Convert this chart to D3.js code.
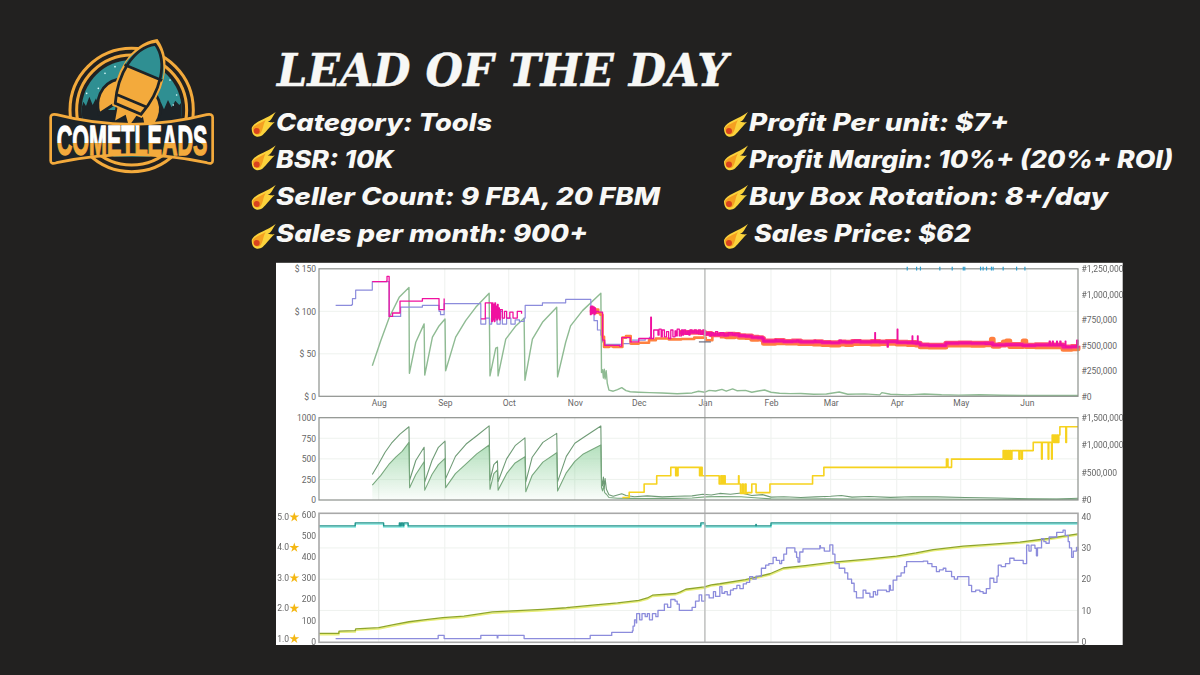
<!DOCTYPE html>
<html><head><meta charset="utf-8">
<script src="https://cdn.jsdelivr.net/npm/d3@7"></script>
<style>
html,body{margin:0;padding:0;background:#222120;overflow:hidden}
svg{display:block}
.lab text{font-family:Roboto,"Open Sans",sans-serif;font-size:8.5px;fill:#666}
</style></head><body>
<svg id="c" width="1200" height="675"></svg>
<script>
// ---------- text content ----------
const titleText = "LEAD OF THE DAY";
const logoText = "COMETLEADS";
const leftFacts = ["Category: Tools","BSR: 10K","Seller Count: 9 FBA, 20 FBM","Sales per month: 900+"];
const rightFacts = ["Profit Per unit: $7+","Profit Margin: 10%+ (20%+ ROI)","Buy Box Rotation: 8+/day"," Sales Price: $62"];
const monthFormat = "%b";

// ---------- data: [days since 1 Aug, value] ----------
const amazonPrice = [[-20.2,107],[-12.6,108],[-12.3,115],[-10.8,125],[-3,135],[4.9,94],[10.3,105],[20.5,107],[28.3,100],[29,96],[30.7,109],[47.9,85],[50.2,92],[52,85],[53,100],[54,90],[55.5,85],[57,100],[58,85],[60,92],[62,85],[64,90],[66,88],[68.2,92],[68.7,107],[76.8,110],[87.7,114],[99.5,100],[101,89],[102.6,78],[104.2,72],[105,64],[106,61],[114,62],[118,66],[125,68],[127,70]];
const newPriceThin = [[-3,135],[3.8,136],[3.9,141],[4.9,94],[6.5,98],[10,112],[20.5,115],[28.3,102],[30.7,115],[34.5,null],[34.9,115],[38,null],[45,115],[47.9,null],[48,91],[50,110],[52.5,110],[53,88],[53.3,110],[53.6,90],[53.9,108],[54.2,88],[54.5,110],[54.8,92],[55.1,106],[55.4,90],[55.7,108],[56,92],[56.3,104],[56.6,90],[57,102],[58,92],[59,100],[60,92],[61.5,99],[63,92],[65,100],[67,97],[68.3,null],
 [99,105],[99.3,96],[99.6,106],[99.9,97],[100.2,106],[100.5,98],[100.8,105],[101.1,96],[101.4,104],[101.7,98],[102,100],[103,99],[105,66],[106,60],[113,59],[114,69],[117,69],[118,64],[122,68],[127.4,68],[127.6,93],[127.9,68],[129,78],[131,72],[131.5,79],[132.5,70],[133,78],[134,70],[135,76],[136,68],[137,78],[138,70],[139,77],[139.5,71],[140,79],[141,71],[142,78],[142.6,72],[143,78],[144,73],[145,77],[145.5,72],[146,78],[147,75],[148,78],[149,74],[150,78],[151,73],[152,78],[153,72],[154,74],[155,71],[156,75],[157,72],[158,76],[159,72],[160,75],[162,71],[164,75],[166,72],[167,74],[169,71],[172,71],[175,69],[180,68],[180.5,65],[186,67],[186.5,64.5],[190,64.5],[196,66],[197,64],[204,64],[204.5,66],[205,63.7],[212,63],[216,66],[217,64],[223,66],[226,64],[232,64],[232.7,75],[233,64],[238,64],[238.5,58],[239,64],[243,63],[243.2,79],[243.5,63],[250,63],[250.2,71],[250.5,62],[252.7,71],[253,62],[254,60],[262,60],[266,62.5],[284,62.5],[284.5,61],[288,60],[298,60],[314,60.5],[314.5,65],[315,60],[316,65],[316.4,60],[318,65],[318.3,60],[319.5,65],[320,60],[322,65],[322.3,58],[324,58],[327,59],[327.4,66],[328,60]];
const newPriceBand = [[141,75],[146,75.5],[150,75],[153,74],[156,72.5],[160,72.5],[163,73],[167,72.6],[169,71.3],[172,70.8],[175,69.5],[178,69],[180,68],[180.5,65],[186,65.6],[190,64.5],[194,65],[198,64],[204,64.3],[208,63.4],[212,63],[216,64],[219,63.6],[222,64.6],[226,64],[231,64.4],[235,64],[238,64.5],[243,63.6],[248,63.2],[252,62.5],[254,60.5],[258,60],[262,60],[266,62.5],[272,62.8],[278,62.4],[284,62.5],[288,60.4],[294,60.8],[302,60],[308,60.6],[316,60.5],[321,58],[325,58.5],[328,59.4]];
const fbaBand = [[160,70.8],[163,70.2],[167,70.8],[169,69.6],[172,69.2],[175,67],[178,67.4],[180,66.2],[180.5,62.5],[186,63],[191,62.6],[197,62],[204,61.4],[208,61],[212,60.4],[216,61.4],[219,61],[222,62.2],[226,62],[231,61.6],[235,62],[238,62.3],[243,61.4],[248,61],[252,60.4],[254,58.2],[258,58],[262,58],[266,60.5],[272,60.4],[278,60.2],[284,60.6],[287,62],[287.4,67],[288.2,59],[291,61],[293,64],[294.5,65],[296,58.6],[302.3,65],[303.5,58.6],[308,58.4],[316,58.2],[321,55.5],[325,55.8],[328,57.5]];
const fbaPrice = [[99,100],[100,104],[101,98],[102,102],[103,98],[104,96],[105,70],[105.7,58],[108,59],[110,58],[114.3,69],[116,71],[118.2,62],[122,63],[126.8,66],[130,68],[136,67],[142,67.5],[148,69],[153.4,66],[156.5,72],[160,72]];
const buyBoxTicks = [247.9,252.3,254.1,263.2,269,274.2,274.9,282.3,283.5,285.1,287.4,288.2,292.9,299.2,303.1];
const salesRank = [[-3,300000],[1,548000],[5,775000],[9.6,970000],[14.2,1067000],[14.4,225000],[17.4,530000],[21.3,710000],[21.6,208000],[25.2,580000],[28.3,690000],[31.1,758000],[31.4,250000],[36.1,580000],[40.8,742000],[45.5,872000],[51.8,1010000],[52.2,200000],[54.9,472000],[55.7,480000],[56,200000],[59.6,560000],[64.3,690000],[68.2,765000],[68.6,158000],[72.1,560000],[76.8,725000],[83.5,872000],[83.9,190000],[87.7,530000],[90,690000],[95.6,840000],[104.2,1010000],[104.5,233000],[105,260000],[105.4,180000],[105.8,265000],[106.2,170000],[106.7,250000],[107.2,130000],[108,60000],[110,50000],[112,65000],[114,85000],[116,55000],[118,45000],[122,40000],[127,36000],[133,32000],[140,25000],[147,33000],[150,50000],[153,40000],[155,58000],[158,52000],[161,68000],[163,50000],[166,72000],[168,55000],[172,58000],[175,40000],[178,52000],[181,62000],[184,40000],[188,30000],[193,26000],[198,28000],[204,20000],[210,22000],[216,42000],[220,20000],[228,24000],[235,14000],[236,36000],[240,20000],[248,14000],[256,22000],[264,15000],[272,12000],[282,15000],[292,10000],[302,8000],[316,8000],[328,8000]];
const monthlySoldUpper = [[-3,310],[0,440],[3,580],[6,690],[10,800],[14.2,890],[14.5,240],[17.4,480],[21.3,640],[21.6,220],[25,480],[28,640],[31.1,715],[31.4,260],[36,530],[41,680],[46,780],[51.8,900],[52.2,240],[54,430],[55.7,475],[56,225],[60,500],[64,660],[68.6,755],[69,220],[72,520],[77,700],[83.5,810],[83.9,220],[88,530],[92,690],[96,760],[104.2,900],[104.5,260],[105,170],[105.4,280],[105.8,140],[106.2,260],[106.8,130],[108,65],[110,45],[112,60],[114,75],[116,55],[120,40],[126,50],[133,38],[140,45],[147,50],[152,70],[156,60],[160,80],[165,70],[170,85],[175,55],[180,65],[184,35],[190,40],[198,30],[205,38],[212,45],[217,55],[222,35],[230,42],[240,32],[250,40],[262,38],[275,30],[290,24],[305,15],[318,12],[328,22]];
const monthlySoldLower = [[-3,182],[1,300],[5,440],[8,520],[11,590],[14.2,700],[14.5,150],[17.4,310],[21.3,465],[21.6,120],[25,310],[28,430],[31.1,505],[31.4,150],[36,320],[41,440],[46,560],[51.8,668],[52.2,130],[54,320],[55.7,365],[56,120],[60,320],[64,450],[68.6,525],[69,100],[72,300],[77,460],[83.5,575],[83.9,110],[88,330],[92,470],[96,560],[104.2,668],[104.5,150],[105,110],[105.5,170],[106,90],[106.8,70],[108,30],[112,22],[118,20],[125,18],[133,22],[140,20],[147,25],[153,38],[160,42],[170,40],[178,25],[184,14],[195,12],[210,14],[225,12],[240,12],[260,12],[280,10],[300,8],[328,10]];
const bsrYellow = [[114.3,45000],[117.5,142000],[124.5,292000],[130.4,442000],[137,595000],[139.3,442000],[139.6,595000],[140,442000],[140.4,595000],[150.5,442000],[150.8,595000],[151.1,442000],[151.4,595000],[151.7,442000],[159.7,292000],[160.5,442000],[160.9,292000],[161.3,442000],[161.7,292000],[162.1,442000],[162.5,292000],[168.8,442000],[169,292000],[169.7,120000],[170.5,292000],[171,120000],[171.8,292000],[172.3,120000],[173,135000],[175,292000],[177,135000],[183.5,292000],[203.5,442000],[208.8,595000],[266.3,745000],[267,595000],[268.7,745000],[292.9,900000],[293.5,745000],[294,900000],[294.5,745000],[295,900000],[295.5,745000],[296,900000],[296.5,745000],[297,900000],[300.3,745000],[300.7,900000],[301.5,745000],[301.9,900000],[307,1050000],[310.9,745000],[311.2,1050000],[314,745000],[314.3,1050000],[315.6,745000],[315.9,1185000],[316.6,1050000],[317,1185000],[317.5,1050000],[318,1185000],[318.5,1050000],[319,1185000],[319.5,1335000],[322.3,1050000],[322.6,1335000],[328,1335000]];
const ratingSteps = [[-28,4.7],[-11,4.8],[2.3,4.7],[9.7,4.8],[10.1,4.7],[10.6,4.8],[11.3,4.7],[11.8,4.8],[13.8,4.7],[151.1,4.8],[153,4.7],[176.9,4.75],[177.1,4.7],[184,4.8],[328,4.8]];
const reviewCount = [[-28,39],[-18.7,39],[-18.6,50],[-11,52],[-10.8,60],[0,66],[7,80],[14.2,94],[22,104],[30,113],[40,120],[48.6,133],[53.3,140],[65,146],[76.8,152],[88,160],[100.3,172],[112,183],[122,195],[126,206],[128.4,219],[139.3,227],[141.5,235],[144,247],[152.7,258],[156,268],[160,273],[172,292],[183.5,320],[189.7,347],[200,358],[213.2,375],[228,388],[242.9,403],[252,418],[260,434],[274.2,450],[288,460],[300.7,469],[314,486],[328,508]];
const offerCount = [[-20.2,1],[27.9,2],[30.7,1],[47.9,2],[55.6,1.2],[55.9,2],[68.2,1],[99.2,2],[109.3,3],[119,3.5],[119.3,5],[120,7],[120.8,6],[121,9],[122.4,7],[123.5,9],[125,8],[126,9],[127,7],[128.4,9],[130,8],[131,10],[133,10],[134,12],[135.5,11],[137,13.5],[139,13],[140,12],[141,10],[144,10],[147,11],[148.6,13],[150.3,15],[151.5,13],[153,15],[155,14],[157,16],[158,14.5],[160,17.6],[161,15.5],[162.3,16],[163.5,15],[165,16.5],[166.3,17],[168,18],[169.4,17],[171,18.5],[172.5,19],[174,20.8],[175.5,20],[177,21],[179.5,23.5],[181.5,24.5],[183,25],[185,27],[186.5,26],[188.1,25],[189,26],[190,28],[191.3,30],[195.2,28.7],[196,27],[196.7,25.5],[197.5,28.7],[199,29.7],[206.9,30.7],[207.2,30],[209,29],[211.6,31],[213,28],[214,25],[216,23.5],[218.6,22],[220,20],[221.8,18.7],[223,16],[224.1,14],[226.5,14],[227.2,16.5],[228.5,15.5],[230.4,14.3],[232,16],[233,15],[234,16.5],[238.2,16],[239.5,18],[240,16.5],[241.3,19.7],[243,21],[245,22],[246.6,24],[247.6,25.6],[255.4,25.8],[257.5,25],[259.5,24],[261.6,22.4],[263,23],[264.8,23.5],[266,22.5],[268.7,20.8],[270,20],[271.5,20.8],[275.7,20.8],[276.8,18],[278.1,16],[280,16.5],[282,16],[283.5,15.5],[285,17],[286.7,20.3],[288.5,19],[290,21],[290.6,24.5],[292,24],[294,25],[296,26.7],[298,26],[302.3,25],[303.9,30.9],[305,29],[306,30.9],[307.8,29.9],[308.5,27.5],[309,30],[310.9,33],[312,32],[313,31.5],[314.5,33.5],[316.4,33.5],[318,35],[321,35.7],[322,34],[323.4,32],[324,30],[325,27],[325.8,29],[327.3,30.2],[328,29]];
const cursorDay = 153;
const cursorMark = 64;

// ---------- scales ----------
const svg = d3.select("#c");
const at = d => new Date(2021,7,1,0,0,0,0).getTime() + d*864e5;
const x = d3.scaleTime().domain([new Date(2021,6,4),new Date(2022,5,25)]).range([319,1078]);
const X = p => x(at(p[0]));
const yPrice = d3.scaleLinear().domain([0,150]).range([396.3,268.8]);
const yRankTop = d3.scaleLinear().domain([0,1250000]).range([396.3,268.8]);
const ySold = d3.scaleLinear().domain([0,1000]).range([500,417.7]);
const yRankMid = d3.scaleLinear().domain([0,1500000]).range([500,417.7]);
const yRev = d3.scaleLinear().domain([0,600]).range([641.7,514.3]);
const yOffer = d3.scaleLinear().domain([0,40]).range([641.7,516.7]);
const yStar = d3.scaleLinear().domain([1,5]).range([638.3,516.7]);
const panels = [{t:268.8,b:396.3,ys:yPrice},{t:417.7,b:500,ys:ySold},{t:513.3,b:642.3,ys:yOffer}];
const L=319,R=1078;
const step = y => d3.line().defined(p=>p[1]!=null).x(X).y(p=>y(p[1])).curve(d3.curveStepAfter);
const straight = y => d3.line().x(X).y(p=>y(p[1]));

// ---------- slide text ----------
svg.append("text").text(titleText).attr("x",277).attr("y",86)
 .attr("textLength",451).attr("lengthAdjust","spacingAndGlyphs")
 .style("font","italic bold 45px 'DejaVu Serif',serif").style("fill","#f7f7f5").style("stroke","#f7f7f5").style("stroke-width",.4);

const defs = svg.append("defs");
const facts = [{items:leftFacts,xs:[276,276,276,276],w:[216,118,384,312],cx:257.7},
               {items:rightFacts,xs:[749,749,749,754],w:[260,424,359,217],cx:730}];
const baselines=[131,168,205,242], cometY=[130,163.5,203,242];
facts.forEach(col=>{
  col.items.forEach((t,i)=>{
    svg.append("text").text(t.trim()).attr("x",col.xs[i]).attr("y",baselines[i])
     .attr("textLength",col.w[i]).attr("lengthAdjust","spacingAndGlyphs")
     .style("font","italic 800 24px Inter,'Open Sans',sans-serif").style("fill","#f8f8f6");
    const g=svg.append("g").attr("transform",`translate(${col.cx},${cometY[i]})`);
    g.append("path").attr("d","M-6,-2 C-3,-9 7,-10 18,-18 C14,-12 14,-10 10,-8 C14,-8 14,-7 17,-8 C11,-2 9,1 5,5 C1,8 -6,8 -6,-2 Z").attr("fill","#fbd33c");
    g.append("path").attr("d","M-5,-2 C-2,-6 3,-7 8,-10 C5,-5 6,-2 3,3 C1,6 -5,5 -5,-2 Z").attr("fill","#f5a021");
    g.append("circle").attr("cx",-1).attr("cy",1).attr("r",3).attr("fill","#d8431f");
  });
});

// ---------- logo ----------
const logo = svg.append("g").attr("transform","translate(30,30) scale(0.3333)");
const lg = defs.append("linearGradient").attr("id","lt").attr("x1",0).attr("x2",0).attr("y1",0).attr("y2",1);
[[0,"#fff"],[.58,"#fff"],[.58,"#f3aa3c"],[1,"#f3aa3c"]].forEach(s=>lg.append("stop").attr("offset",s[0]).attr("stop-color",s[1]));
defs.append("clipPath").attr("id","sky").append("circle").attr("cx",305).attr("cy",240).attr("r",150);
logo.append("circle").attr("cx",305).attr("cy",240).attr("r",185).attr("fill","none").attr("stroke","#f3aa3c").attr("stroke-width",9);
logo.append("circle").attr("cx",305).attr("cy",240).attr("r",165).attr("fill","none").attr("stroke","#f3aa3c").attr("stroke-width",9);
const sky=logo.append("g").attr("clip-path","url(#sky)");
sky.append("rect").attr("x",140).attr("y",80).attr("width",340).attr("height",300).attr("fill","#2f8f92");
sky.append("path").attr("d","M150,250 L160,215 L168,228 L178,200 L188,225 L198,205 L210,235 L222,212 L235,240 L380,240 L392,215 L402,238 L414,210 L425,232 L436,212 L448,225 L460,210 L470,260 L470,300 L150,300 Z").attr("fill","#1d2327");
[[205,175],[225,130],[170,190],[255,110],[420,150],[440,195],[395,120],[215,205],[430,225]].forEach(s=>sky.append("circle").attr("cx",s[0]).attr("cy",s[1]).attr("r",2.5).attr("fill","#dff"));
const r=logo.append("g").attr("transform","translate(327,159) rotate(22.8) scale(1.2)");
r.append("path").attr("d","M-50,10 C-92,40 -82,85 -62,110 L-35,70 Z M50,10 C92,40 82,85 62,110 L35,70 Z").attr("fill","#f3aa3c").attr("stroke","#1d2327").attr("stroke-width",7);
r.append("path").attr("d","M-30,70 L-20,115 L0,90 L20,115 L30,70 Z").attr("fill","#f3aa3c").attr("stroke","#1d2327").attr("stroke-width",5);
r.append("path").attr("d","M0,-112 C50,-80 62,0 36,72 L-36,72 C-62,0 -50,-80 0,-112 Z").attr("fill","#f3aa3c").attr("stroke","#f3aa3c").attr("stroke-width",12);
r.append("path").attr("d","M0,-105 C38,-80 50,-45 51,-28 L-51,-28 C-50,-45 -38,-80 0,-105 Z").attr("fill","#2f8f92");
r.append("path").attr("d","M0,-105 C48,-76 58,0 35,70 L-35,70 C-58,0 -48,-76 0,-105 Z M-51,-28 L51,-28 M-42,48 L42,48").attr("fill","none").attr("stroke","#1d2327").attr("stroke-width",7);
logo.append("path").attr("d","M62,262 Q62,250 80,254 Q305,312 530,254 Q548,250 548,262 L548,392 Q548,404 530,398 Q305,350 80,398 Q62,404 62,392 Z").attr("fill","#1d2327").attr("stroke","#f3aa3c").attr("stroke-width",8);
svg.append("text").text(logoText).attr("transform","translate(56.7,154.7) scale(1,2)").attr("textLength",150.7).attr("lengthAdjust","spacingAndGlyphs")
 .style("font","bold 21.35px 'Liberation Sans Narrow','Liberation Sans',sans-serif").style("fill","url(#lt)").style("stroke","url(#lt)").style("stroke-width",.7);

// ---------- chart panel ----------
const chart = svg.append("g").style("filter","blur(0.45px)");
chart.append("rect").attr("x",276).attr("y",262.8).attr("width",846.7).attr("height",382.2).attr("fill","#fff");

// grids
const months = x.ticks(d3.timeMonth.every(1));
panels.forEach(p=>{
  chart.append("g").selectAll("line").data(months).join("line")
    .attr("x1",d=>x(d)).attr("x2",d=>x(d)).attr("y1",p.t).attr("y2",p.b).attr("stroke","#eef1ee");
});
[[yPrice,[50,100]],[ySold,[250,500,750]],[yOffer,[10,20,30]]].forEach(([s,v])=>{
  chart.append("g").selectAll("line").data(v).join("line")
   .attr("x1",L).attr("x2",R).attr("y1",d=>s(d)).attr("y2",d=>s(d)).attr("stroke","#eef2ee");
});

// axes
const axis = (gen,tx,cls="lab") => {
  const g=chart.append("g").attr("class",cls).attr("transform",tx).call(gen);
  g.select(".domain").remove(); g.selectAll(".tick line").remove();
  return g;
};
const plain = d3.format("d");
const monthAxis = d3.axisBottom(x).ticks(d3.timeMonth.every(1)).tickFormat(d3.timeFormat(monthFormat)).tickSize(0).tickPadding(0);
axis(monthAxis,"translate(0,399.5)");
axis(d3.axisLeft(yPrice).tickValues([0,50,100,150]).tickFormat(d=>"$ "+d).tickSize(0).tickPadding(0),"translate(316,0)");
const hash = d=>"#"+d3.format(",")(d);
axis(d3.axisRight(yRankTop).tickValues([0,250000,500000,750000,1000000,1250000]).tickFormat(hash).tickSize(0).tickPadding(0),"translate(1081.5,0)");
axis(d3.axisLeft(ySold).tickValues([0,250,500,750,1000]).tickFormat(plain).tickSize(0).tickPadding(0),"translate(316,0)");
axis(d3.axisRight(yRankMid).tickValues([0,500000,1000000,1500000]).tickFormat(hash).tickSize(0).tickPadding(0),"translate(1081.5,0)");
axis(d3.axisLeft(yRev).tickValues([0,100,200,300,400,500,600]).tickFormat(plain).tickSize(0).tickPadding(0),"translate(316,0)");
axis(d3.axisRight(yOffer).tickValues([0,10,20,30,40]).tickFormat(plain).tickSize(0).tickPadding(0),"translate(1081.5,0)");
const starG=axis(d3.axisLeft(yStar).tickValues([1,2,3,4,5]).tickFormat(d3.format(".1f")).tickSize(0).tickPadding(0),"translate(289,0)");
starG.selectAll(".tick").append("path").attr("d",d3.symbol(d3.symbolStar,30)).attr("transform","translate(5.3,0)").attr("fill","#f4b713");

// panel 1 marks
const addPath=(d,gen,c,w)=>chart.append("path").datum(d).attr("d",gen).attr("fill","none").attr("stroke",c).attr("stroke-width",w).attr("stroke-linejoin","round");
addPath(salesRank,straight(yRankTop),"#8fbb93",1.4);
addPath(amazonPrice,step(yPrice),"#8c8cdc",1.2);
addPath(fbaPrice,step(yPrice),"#ff8140",2.6);
addPath(fbaBand,step(yPrice),"#ff7f3e",5);
addPath(newPriceBand,step(yPrice),"#ff5a6a",5);
addPath(newPriceBand,step(yPrice),"#f5189c",3.2);
addPath(newPriceThin,step(yPrice),"#f0109f",1.3);

// panel 2 marks
const grad=defs.append("linearGradient").attr("id","gf").attr("x1",0).attr("x2",0).attr("y1",0).attr("y2",1);
grad.append("stop").attr("offset",0).attr("stop-color","#7cc98c").attr("stop-opacity",.6);
grad.append("stop").attr("offset",1).attr("stop-color","#7cc98c").attr("stop-opacity",.04);
chart.append("path").datum(monthlySoldLower).attr("fill","url(#gf)")
  .attr("d",d3.area().x(X).y0(ySold(0)).y1(p=>ySold(p[1])));
addPath(monthlySoldUpper,straight(ySold),"#6f9b76",1.1);
addPath(monthlySoldLower,straight(ySold),"#78a87e",1.1);
addPath(bsrYellow,step(yRankMid),"#f6d21e",1.6);

// panel 3 marks
chart.append("path").datum(ratingSteps).attr("d",step(d=>yStar(d)+1.3)).attr("fill","none").attr("stroke","#7fe9e0").attr("stroke-width",1.4);
addPath(ratingSteps,step(yStar),"#23948c",1.3);
chart.append("path").datum(reviewCount).attr("d",straight(d=>yRev(d)+1.2)).attr("fill","none").attr("stroke","#e8ee7a").attr("stroke-width",1.6);
addPath(reviewCount,straight(yRev),"#8ea52a",1.3);
addPath(offerCount,step(yOffer),"#8c8cdc",1.3);

// frames and cursor
chart.append("line").attr("x1",x(at(cursorDay))).attr("x2",x(at(cursorDay))).attr("y1",268.8).attr("y2",642.3).attr("stroke","#bdbdbd").attr("stroke-width",1.4);
chart.append("line").attr("x1",x(at(cursorDay))-6).attr("x2",x(at(cursorDay))+6).attr("y1",yPrice(cursorMark)).attr("y2",yPrice(cursorMark)).attr("stroke","#666a80").attr("stroke-width",1.2);
chart.append("g").selectAll("rect").data(panels).join("rect")
  .attr("x",L).attr("width",R-L).attr("y",d=>d.t).attr("height",d=>d.b-d.t)
  .attr("fill","none").attr("stroke",(d,i)=>i==2?"#a8a8a8":"#8d918d").attr("stroke-width",(d,i)=>i==2?1.6:1.2);
chart.append("g").selectAll("line").data(buyBoxTicks).join("line")
  .attr("x1",d=>x(at(d))).attr("x2",d=>x(at(d))).attr("y1",yPrice(152.5)).attr("y2",yPrice(148)).attr("stroke","#2f9fd0").attr("stroke-width",1.2);
</script>
</body></html>
